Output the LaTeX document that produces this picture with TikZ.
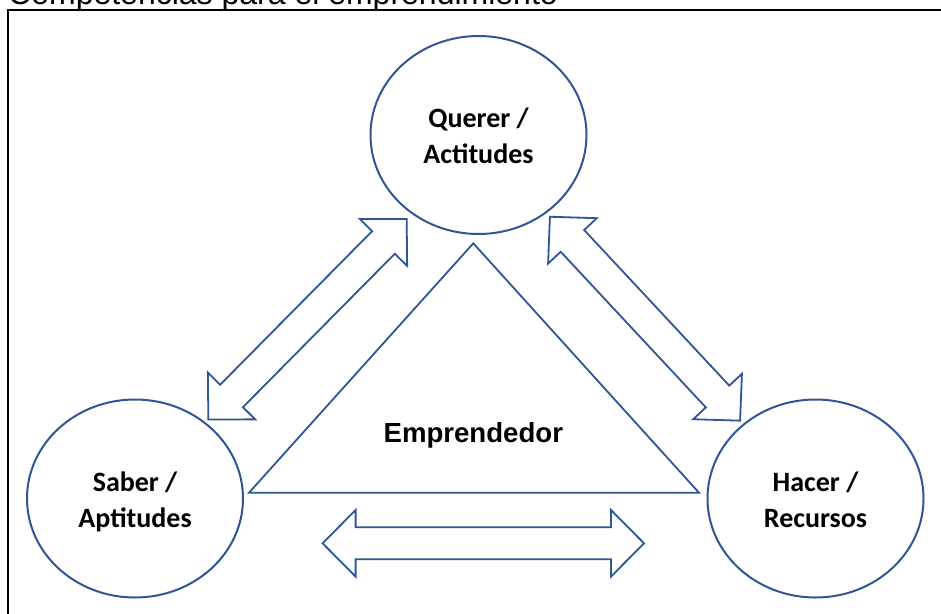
\documentclass[tikz,border=0pt]{standalone}
\usepackage{fontspec}
\setmainfont{Liberation Sans}
\newfontfamily\calib{Carlito}
\usetikzlibrary{shapes.geometric}
\definecolor{ringblue}{HTML}{2F5597}

% outline double-headed block arrow, drawn along the local x axis
% #1 centre, #2 angle, #3 half length
\newcommand\blockdoublearrow[3]{%
  \begin{scope}[shift={#1}, rotate=#2]
    \draw[arrowline]
      (-#3,0) -- (-#3+33,33.3) -- (-#3+33,16) -- (#3-33,16) -- (#3-33,33.3)
      -- (#3,0) -- (#3-33,-33.3) -- (#3-33,-16) -- (-#3+33,-16)
      -- (-#3+33,-33.3) -- cycle;
  \end{scope}}

\tikzset{
  ring/.style={draw=ringblue, line width=2pt, ellipse, inner sep=0pt,
    minimum width=216pt, minimum height=198pt},
  ringtext/.style={inner sep=0pt, align=center,
    font=\calib\bfseries\fontsize{28}{35.6}\selectfont},
  arrowline/.style={draw=ringblue, line width=1.8pt, line join=miter},
  tri/.style={draw=ringblue, line width=1.8pt, line join=miter},
}

\begin{document}
\begin{tikzpicture}[x=1pt, y=-1pt]
  \useasboundingbox (0,0) rectangle (941,613);

  % heading and frame
  \node[anchor=base west, inner sep=0pt, font=\fontsize{32}{38}\selectfont]
    (title) at (8,4.5) {Competencias para el emprendimiento};
  \draw[line width=2pt] (8,10) rectangle (960,640);

  % central triangle
  \coordinate (apex) at (473.3,243.3);
  \coordinate (bl) at (249,492.7);
  \coordinate (br) at (699,492.7);
  \draw[tri] (apex) -- (bl) -- (br) -- cycle;
  \node[font=\bfseries\fontsize{27.6}{32}\selectfont, inner sep=0pt, anchor=base]
    (centre) at (473.3,442.3) {Emprendedor};

  % the three competences
  \node[ring] (querer) at (478.5,135) {};
  \node[ring] (saber) at (135,498.5) {};
  \node[ring] (hacer) at (815.5,498.5) {};
  \node[ringtext] (querer-t) at ([yshift=-3.5pt]querer.center)
    {\strut Querer /\\\strut Actitudes};
  \node[ringtext] (saber-t) at ([yshift=-3.8pt]saber.center)
    {\strut Saber /\\\strut Aptitudes};
  \node[ringtext] (hacer-t) at ([yshift=-3.8pt]hacer.center)
    {\strut Hacer /\\\strut Recursos};

  % two-way links between them
  \blockdoublearrow{(307.5,319.2)}{45.3}{141}
  \blockdoublearrow{(645,318.7)}{-47}{139.4}
  \blockdoublearrow{(483.3,543.3)}{0}{160.7}
\end{tikzpicture}
\end{document}
